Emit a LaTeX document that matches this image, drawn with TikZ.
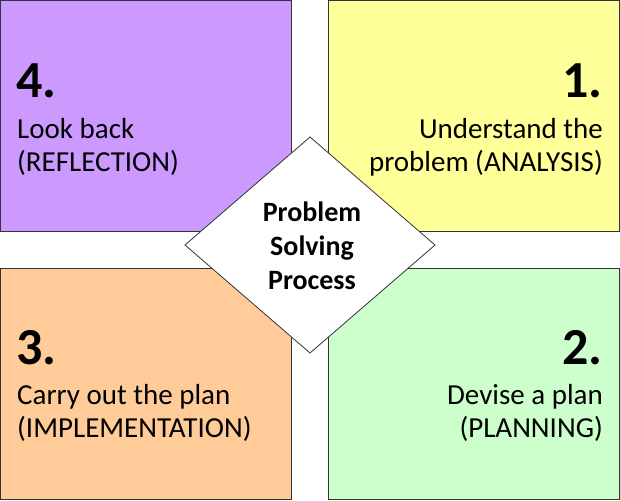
\documentclass[tikz,border=0pt]{standalone}
\usepackage{fontspec}
\setmainfont{Carlito}
\usetikzlibrary{shapes.geometric}
\definecolor{cpurple}{HTML}{CC99FF}
\definecolor{cyellow}{HTML}{FFFF99}
\definecolor{corange}{HTML}{FFCC99}
\definecolor{cgreen}{HTML}{CCFFCC}
\tikzset{
 quad/.style={draw=black!80, line width=0.8pt, minimum width=291pt, minimum height=231pt, inner sep=0pt},
 num/.style={font=\fontsize{52}{52}\selectfont\bfseries, inner sep=0pt},
 txt/.style={font=\fontsize{29}{33}\selectfont, inner sep=0pt},
}
\begin{document}
\begin{tikzpicture}[x=1pt,y=-1pt]
\useasboundingbox (0,0) rectangle (620,500);
\node[quad, fill=cpurple] (q4) at (146,116) {};
\node[quad, fill=cyellow] (q1) at (474,116) {};
\node[quad, fill=corange] (q3) at (146,384) {};
\node[quad, fill=cgreen] (q2) at (474,384) {};
\node[num, anchor=base west] (n4) at (16,98) {4.};
\node[txt, anchor=base west, align=left] (t4) at (17,171) {Look back\\(REFLECTION)};
\node[num, anchor=base east] (n1) at (603,98) {1.};
\node[txt, anchor=base east, align=right] (t1) at (603,171) {Understand the\\problem (ANALYSIS)};
\node[num, anchor=base west] (n3) at (16,364) {3.};
\node[txt, anchor=base west, align=left] (t3) at (17,437) {Carry out the plan\\(IMPLEMENTATION)};
\node[num, anchor=base east] (n2) at (603,364) {2.};
\node[txt, anchor=base east, align=right] (t2) at (603,437) {Devise a plan\\(PLANNING)};
\coordinate (c) at (310,245);
\draw[fill=white, draw=black!80, line width=0.8pt] (185,245) -- (310,137) -- (435,245) -- (310,353) -- cycle;
\node[font=\fontsize{28}{34}\selectfont\bfseries, align=center, inner sep=0pt] (d) at (312,246) {Problem\\Solving\\Process};
\end{tikzpicture}
\end{document}
